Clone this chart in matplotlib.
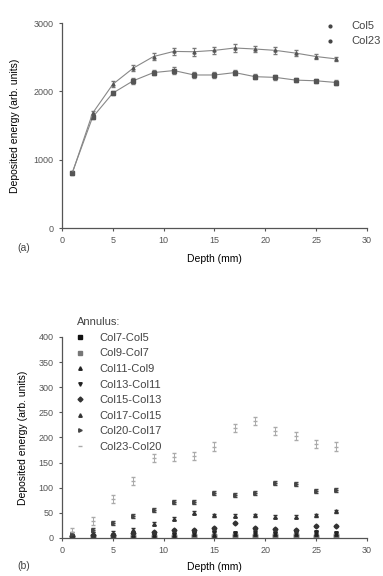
import matplotlib
matplotlib.use("Agg")
import matplotlib.pyplot as plt
from matplotlib.lines import Line2D

plt.rcParams.update({
    "font.family": ["Liberation Sans", "DejaVu Sans"],
    "axes.linewidth": 0.9,
    "axes.edgecolor": "#555555",
    "xtick.color": "#555555",
    "ytick.color": "#555555",
    "text.color": "#444444",
})

depth = [1, 3, 5, 7, 9, 11, 13, 15, 17, 19, 21, 23, 25, 27]

# panel (a)
col5 = [810, 1620, 1975, 2155, 2275, 2305, 2240, 2240, 2275, 2215, 2205, 2165, 2155, 2130]
col5_err = [20, 30, 35, 40, 40, 45, 45, 40, 40, 35, 35, 30, 30, 30]
col23 = [800, 1680, 2105, 2340, 2510, 2585, 2580, 2600, 2635, 2620, 2600, 2560, 2510, 2475]
col23_err = [20, 35, 40, 45, 50, 55, 60, 55, 60, 50, 50, 40, 40, 35]

# panel (b)
annulus_labels = ["Col7-Col5", "Col9-Col7", "Col11-Col9", "Col13-Col11",
                  "Col15-Col13", "Col17-Col15", "Col20-Col17", "Col23-Col20"]
annulus = [
    [1, 2, 2, 2, 2, 2, 3, 3, 3, 3, 3, 3, 2, 3],
    [2, 3, 3, 3, 3, 4, 4, 4, 5, 4, 5, 5, 4, 5],
    [3, 3, 4, 5, 5, 6, 7, 6, 7, 7, 7, 8, 8, 7],
    [3, 4, 5, 7, 6, 8, 10, 12, 10, 11, 10, 12, 12, 10],
    [4, 5, 6, 10, 12, 16, 15, 20, 30, 20, 18, 15, 24, 24],
    [5, 8, 10, 16, 28, 38, 50, 45, 44, 45, 42, 42, 45, 53],
    [8, 15, 30, 44, 56, 71, 72, 90, 86, 90, 109, 108, 94, 96],
    [12, 33, 78, 114, 160, 161, 163, 182, 218, 233, 212, 203, 187, 182],
]
annulus_err = [1, 1, 1, 1, 2, 3, 4, 8]
markers = ["s", "s", "^", "v", "D", "^", ">", "_"]
mcolors = ["#111111", "#777777", "#222222", "#222222", "#333333", "#333333", "#444444", "#aaaaaa"]

fig = plt.figure(figsize=(3.83, 5.76), dpi=100)

# ── (a) ──────────────────────────────────────────────
ax1 = fig.add_axes([0.162, 0.604, 0.796, 0.356])
ax1.errorbar(depth, col5, yerr=col5_err, color="#888888", lw=0.8,
             marker="s", ms=2.2, mfc="#555555", mec="#555555",
             elinewidth=0.7, ecolor="#777777", capsize=1.5)
ax1.errorbar(depth, col23, yerr=col23_err, color="#888888", lw=0.8,
             marker="^", ms=2.2, mfc="#555555", mec="#555555",
             elinewidth=0.7, ecolor="#777777", capsize=1.5)
ax1.set_xlim(0, 30)
ax1.set_ylim(0, 3000)
ax1.set_xticks([0, 5, 10, 15, 20, 25, 30])
ax1.set_yticks([0, 1000, 2000, 3000])
ax1.tick_params(labelsize=6.5, length=2.5, width=0.8)
ax1.spines["top"].set_visible(False)
ax1.spines["right"].set_visible(False)
ax1.set_xlabel("Depth (mm)", fontsize=7.5, labelpad=6)
ax1.set_ylabel("Deposited energy (arb. units)", fontsize=7.5, labelpad=10)
h1 = [Line2D([], [], ls="none", marker="o", ms=2, color="#444444"),
      Line2D([], [], ls="none", marker="o", ms=2, color="#444444")]
ax1.legend(h1, ["Col5", "Col23"], loc="upper left", bbox_to_anchor=(0.85, 1.035),
           frameon=False, fontsize=8, handlelength=0.6, handletextpad=1.6,
           labelspacing=0.45, borderpad=0)
fig.text(0.045, 0.565, "(a)", fontsize=7.5)

# ── (b) ──────────────────────────────────────────────
ax2 = fig.add_axes([0.162, 0.066, 0.796, 0.349])
h2 = []
for i, vals in enumerate(annulus):
    mk, mc = markers[i], mcolors[i]
    ax2.errorbar(depth, vals, yerr=annulus_err[i], linestyle="none",
                 marker=mk, ms=2.5, mfc=mc, mec=mc, color=mc,
                 elinewidth=0.7, capsize=1.2)
    h2.append(Line2D([], [], ls="none", marker=mk, ms=2.5, color=mc))
ax2.set_xlim(0, 30)
ax2.set_ylim(0, 400)
ax2.set_xticks([0, 5, 10, 15, 20, 25, 30])
ax2.set_yticks(range(0, 401, 50))
ax2.tick_params(labelsize=6.5, length=2.5, width=0.8)
ax2.spines["top"].set_visible(False)
ax2.spines["right"].set_visible(False)
ax2.set_xlabel("Depth (mm)", fontsize=7.5, labelpad=5)
ax2.set_ylabel("Deposited energy (arb. units)", fontsize=7.5, labelpad=8)
leg2 = ax2.legend(h2, annulus_labels, loc="upper left", bbox_to_anchor=(0.03, 1.125),
                  frameon=False, fontsize=8, title="Annulus:", title_fontsize=8,
                  handlelength=0.6, handletextpad=1.4, labelspacing=0.5,
                  borderpad=0)
leg2._legend_box.align = "left"
fig.text(0.045, 0.012, "(b)", fontsize=7.5)

fig.savefig("out.png", dpi=100)
